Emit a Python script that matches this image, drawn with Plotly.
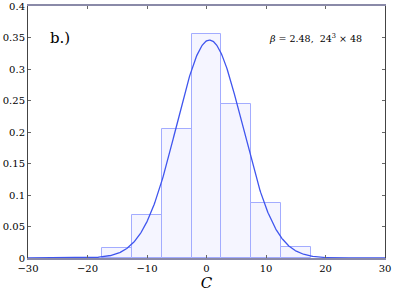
import numpy as np
import plotly.graph_objects as go

# Histogram data (bin centers, bin width 5)
bin_centers = [-15, -10, -5, 0, 5, 10, 15]
bin_heights = [0.016, 0.069, 0.205, 0.355, 0.245, 0.087, 0.017]
bin_width = 5

# Gaussian fit parameters
fit_mu = 0.5
fit_sigma = 5.55
fit_amp = 0.346

x_ticks = [-30, -20, -10, 0, 10, 20, 30]
y_ticks = [0, 0.05, 0.1, 0.15, 0.2, 0.25, 0.3, 0.35, 0.4]
y_tick_text = ["0", "0.05", "0.1", "0.15", "0.2", "0.25", "0.3", "0.35", "0.4"]

xc = np.linspace(-30, 30, 601)
yc = fit_amp * np.exp(-(xc - fit_mu) ** 2 / (2 * fit_sigma ** 2))

serif = "DejaVu Serif"

fig = go.Figure()
fig.add_trace(go.Bar(
    x=bin_centers, y=bin_heights, width=[bin_width] * len(bin_centers),
    marker=dict(color="#f5f5ff", line=dict(color="#a3acff", width=1)),
    showlegend=False,
))
fig.add_trace(go.Scatter(
    x=xc, y=yc, mode="lines",
    line=dict(color="#3f55ee", width=1.3),
    showlegend=False,
))

fig.update_layout(
    width=407, height=293,
    margin=dict(l=28, r=22, t=6, b=35, autoexpand=False),
    plot_bgcolor="white", paper_bgcolor="white",
    font=dict(family=serif, size=10, color="black"),
    bargap=0,
    xaxis=dict(
        range=[-30, 30], tickvals=x_ticks, ticks="inside", ticklen=3,
        tickcolor="#666", showgrid=False, zeroline=False,
        showline=True, linecolor="#8a8aa8", linewidth=1.5, mirror="ticks",
        tickfont=dict(family=serif, size=10),
        ticklabeloverflow="allow",
        title=dict(text="<i>C</i>", font=dict(family=serif, size=15), standoff=2),
    ),
    yaxis=dict(
        range=[0, 0.4001], tickvals=y_ticks, ticktext=y_tick_text,
        ticks="inside", ticklen=3, tickcolor="#666",
        showgrid=False, zeroline=False,
        showline=True, linecolor="#444", linewidth=1, mirror="ticks",
        tickfont=dict(family=serif, size=10),
        ticklabeloverflow="allow",
    ),
    annotations=[
        dict(text="b.)", x=0.055, y=0.875, xref="paper", yref="paper",
             showarrow=False, xanchor="left", yanchor="middle",
             font=dict(family=serif, size=15)),
        dict(text="<i>β</i> = 2.48,  24<sup>3</sup> × 48", x=0.94, y=0.875,
             xref="paper", yref="paper", showarrow=False,
             xanchor="right", yanchor="middle",
             font=dict(family=serif, size=9.5)),
    ],
)

fig.write_html("out.html", config={"displayModeBar": False},
               post_script="document.body.style.margin='0';")
